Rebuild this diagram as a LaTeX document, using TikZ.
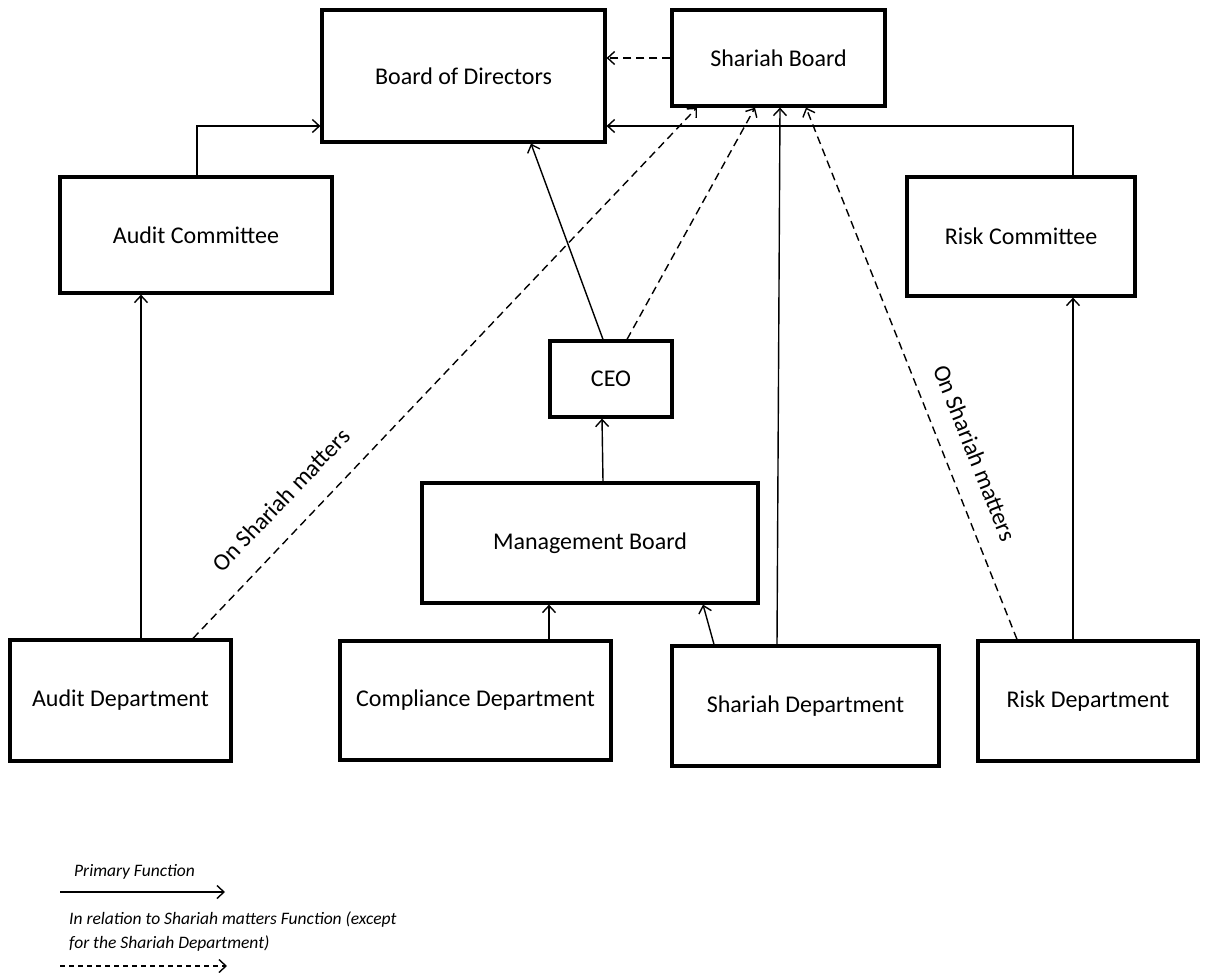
\documentclass[tikz,border=0pt]{standalone}
\usepackage{fontspec}
\setmainfont{Carlito}
\usetikzlibrary{arrows.meta}
\begin{document}
\begin{tikzpicture}[x=1pt,y=-1pt,
  box/.style={draw,line width=3.2pt,rectangle,inner sep=0pt,font=\fontsize{24}{28}\selectfont},
  conn/.style={line width=1.4pt,-{Straight Barb[length=7pt,width=13pt,line width=1.4pt]}},
  dconn/.style={conn,dash pattern=on 8pt off 5pt},
  lbl/.style={font=\fontsize{24}{28}\selectfont},
  leg/.style={font=\itshape\fontsize{17.5}{20}\selectfont,anchor=west,inner sep=0pt}]
\useasboundingbox (0,0) rectangle (1207,972);
\node[box,minimum width=283pt,minimum height=132pt] (bod) at (463.5,76) {Board of Directors};
\node[box,minimum width=213pt,minimum height=96pt] (sb) at (778.5,58) {Shariah Board};
\node[box,minimum width=272pt,minimum height=116pt] (ac) at (196,235) {Audit Committee};
\node[box,minimum width=228pt,minimum height=119pt] (rc) at (1021,236.5) {Risk Committee};
\node[box,minimum width=122pt,minimum height=76pt] (ceo) at (611,379) {CEO};
\node[box,minimum width=336pt,minimum height=120pt] (mb) at (590,543) {Management Board};
\node[box,minimum width=221pt,minimum height=121pt] (ad) at (120.5,700.5) {Audit Department};
\node[box,minimum width=271pt,minimum height=119pt] (cd) at (475.5,700.5) {Compliance Department};
\node[box,minimum width=267pt,minimum height=120pt] (sd) at (805.5,706) {Shariah Department};
\node[box,minimum width=220pt,minimum height=120pt] (rd) at (1088,701) {Risk Department};
% committees to board
\draw[conn] ([xshift=1pt]ac.north) |- ([yshift=-50pt]bod.west);
\draw[conn] ([xshift=52pt]rc.north) |- ([yshift=-50pt]bod.east);
\draw[dconn] (sb.west) -- (sb.west -| bod.east);
% CEO
\draw[conn] ([xshift=-8pt]ceo.north) -- ([xshift=67.5pt]bod.south);
\draw[dconn] ([xshift=16pt]ceo.north) -- ([xshift=-23.5pt]sb.south);
\draw[conn] ([xshift=13pt]mb.north) -- ([xshift=-9pt]ceo.south);
% departments
\draw[conn] ([xshift=20.5pt]ad.north) -- ([xshift=-55pt]ac.south);
\draw[dconn] ([xshift=72.5pt]ad.north) -- node[lbl,sloped,above=19pt,pos=0.22] {On Shariah matters} ([xshift=-81.5pt]sb.south);
\draw[conn] ([xshift=-15pt]rd.north) -- ([xshift=52pt]rc.south);
\draw[dconn] ([xshift=-71pt]rd.north) -- node[lbl,sloped,above=17pt,pos=0.33] {On Shariah matters} ([xshift=27.5pt]sb.south);
\draw[conn] ([xshift=73.5pt]cd.north) -- ([xshift=-41pt]mb.south);
\draw[conn] ([xshift=-91.5pt]sd.north) -- ([xshift=113pt]mb.south);
\draw[conn] ([xshift=-28.5pt]sd.north) -- ([xshift=1.5pt]sb.south);
% legend
\node[leg] (l1) at (74,872) {Primary Function};
\coordinate (l1a) at (60,892);
\coordinate (l1b) at (225,892);
\draw[conn] (l1a) -- (l1b);
\node[leg] (l2) at (69,920) {In relation to Shariah matters Function (except};
\node[leg] (l3) at (69,944) {for the Shariah Department)};
\coordinate (l2a) at (60,966);
\coordinate (l2b) at (227,966);
\draw[dconn,dash pattern=on 5pt off 4pt] (l2a) -- (l2b);
\end{tikzpicture}
\end{document}
